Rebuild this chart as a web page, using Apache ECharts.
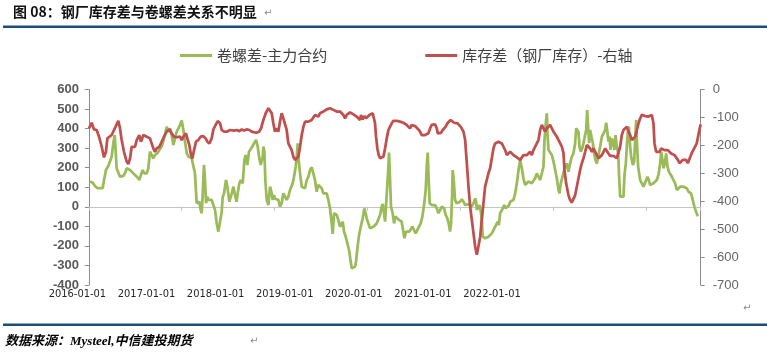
<!DOCTYPE html>
<html><head><meta charset="utf-8">
<script src="https://cdn.jsdelivr.net/npm/echarts@6/dist/echarts.min.js"></script>
<style>html,body{margin:0;padding:0;background:#fff}#c{width:767px;height:355px}</style>
</head><body><div id="c"></div>
<script>
const titleText = '图 08：钢厂库存差与卷螺差关系不明显';
const sourceText = '数据来源：Mysteel,中信建投期货';
const greenName = '卷螺差-主力合约';
const redName = '库存差（钢厂库存）-右轴';
const tickLabels = ['2016-01-01','2017-01-01','2018-01-01','2019-01-01','2020-01-01','2021-01-01','2022-01-01'];

const greenYears = [2016.012,2016.041,2016.066,2016.091,2016.120,2016.148,2016.163,2016.184,2016.209,2016.227,2016.245,2016.263,2016.278,2016.288,2016.299,2016.317,2016.335,2016.353,2016.371,2016.389,2016.407,2016.425,2016.443,2016.461,2016.479,2016.497,2016.522,2016.543,2016.561,2016.579,2016.597,2016.623,2016.640,2016.658,2016.676,2016.694,2016.712,2016.737,2016.759,2016.784,2016.802,2016.820,2016.838,2016.856,2016.874,2016.892,2016.910,2016.928,2016.946,2016.964,2016.982,2017.000,2017.018,2017.036,2017.054,2017.072,2017.090,2017.107,2017.125,2017.143,2017.161,2017.179,2017.190,2017.204,2017.215,2017.226,2017.240,2017.251,2017.262,2017.276,2017.287,2017.305,2017.323,2017.341,2017.359,2017.377,2017.395,2017.413,2017.431,2017.442,2017.456,2017.477,2017.492,2017.513,2017.528,2017.539,2017.557,2017.574,2017.592,2017.603,2017.621,2017.636,2017.657,2017.675,2017.689,2017.707,2017.725,2017.743,2017.761,2017.779,2017.801,2017.819,2017.833,2017.851,2017.862,2017.873,2017.880,2017.891,2017.901,2017.916,2017.934,2017.952,2017.970,2017.980,2017.995,2018.005,2018.023,2018.041,2018.059,2018.077,2018.095,2018.113,2018.131,2018.149,2018.167,2018.185,2018.196,2018.210,2018.228,2018.239,2018.250,2018.260,2018.275,2018.293,2018.311,2018.329,2018.347,2018.365,2018.383,2018.400,2018.418,2018.436,2018.454,2018.472,2018.490,2018.508,2018.526,2018.544,2018.562,2018.580,2018.598,2018.616,2018.627,2018.641,2018.659,2018.670,2018.688,2018.706,2018.724,2018.735,2018.749,2018.767,2018.785,2018.803,2018.821,2018.832,2018.850,2018.868,2018.878,2018.893,2018.911,2018.929,2018.950,2018.968,2018.982,2018.993,2019.011,2019.029,2019.047,2019.065,2019.083,2019.101,2019.119,2019.137,2019.155,2019.166,2019.180,2019.191,2019.209,2019.223,2019.234,2019.245,2019.255,2019.273,2019.288,2019.302,2019.316,2019.334,2019.352,2019.370,2019.388,2019.399,2019.417,2019.435,2019.453,2019.467,2019.485,2019.503,2019.521,2019.539,2019.557,2019.575,2019.593,2019.611,2019.629,2019.640,2019.651,2019.661,2019.672,2019.694,2019.712,2019.730,2019.748,2019.766,2019.784,2019.802,2019.812,2019.827,2019.845,2019.862,2019.880,2019.891,2019.902,2019.913,2019.920,2019.931,2019.945,2019.963,2019.981,2019.999,2020.018,2020.036,2020.054,2020.072,2020.090,2020.108,2020.126,2020.144,2020.162,2020.172,2020.180,2020.198,2020.208,2020.223,2020.233,2020.244,2020.259,2020.269,2020.287,2020.305,2020.323,2020.341,2020.359,2020.377,2020.395,2020.406,2020.417,2020.431,2020.449,2020.460,2020.474,2020.492,2020.510,2020.528,2020.539,2020.557,2020.575,2020.593,2020.611,2020.629,2020.647,2020.657,2020.668,2020.682,2020.700,2020.718,2020.736,2020.754,2020.772,2020.790,2020.808,2020.826,2020.844,2020.862,2020.880,2020.898,2020.909,2020.923,2020.934,2020.941,2020.952,2020.970,2020.988,2021.006,2021.024,2021.042,2021.060,2021.070,2021.085,2021.103,2021.121,2021.139,2021.149,2021.167,2021.185,2021.203,2021.221,2021.239,2021.250,2021.264,2021.275,2021.286,2021.300,2021.315,2021.329,2021.347,2021.358,2021.369,2021.379,2021.390,2021.401,2021.415,2021.430,2021.444,2021.458,2021.473,2021.491,2021.509,2021.527,2021.545,2021.563,2021.573,2021.584,2021.598,2021.609,2021.620,2021.634,2021.649,2021.663,2021.674,2021.688,2021.703,2021.713,2021.724,2021.742,2021.760,2021.771,2021.785,2021.796,2021.807,2021.818,2021.832,2021.843,2021.861,2021.875,2021.886,2021.897,2021.907,2021.918,2021.929,2021.940,2021.958,2021.976,2021.994,2022.004,2022.019,2022.033,2022.047,2022.065,2022.083,2022.101,2022.119,2022.137,2022.155,2022.166,2022.180,2022.191,2022.205,2022.220,2022.234,2022.249,2022.263,2022.281,2022.299,2022.317,2022.335,2022.353,2022.371,2022.389,2022.407,2022.425,2022.443,2022.461,2022.478,2022.488,2022.506,2022.524,2022.542,2022.556,2022.565];
const greenValues = [129,123,106,95,95,95,137,188,209,214,256,325,367,291,197,192,154,149,158,171,197,188,188,183,171,163,151,137,163,188,171,171,197,282,265,248,265,274,291,308,316,367,410,384,401,367,316,350,384,393,418,441,393,333,274,257,265,248,243,171,18,9,26,-16,-33,60,214,137,18,52,35,43,35,38,-16,-85,-127,-119,-25,52,69,137,103,26,18,69,103,60,26,69,120,137,120,239,265,214,282,291,308,325,342,308,257,214,209,257,308,282,137,35,9,103,69,35,60,43,43,35,1,18,69,60,35,52,86,95,120,154,205,256,325,239,171,103,112,95,137,154,188,202,171,137,77,112,117,95,69,77,69,35,-8,-85,-139,-33,-25,-42,-68,-102,-102,-76,-127,-153,-187,-221,-281,-315,-320,-306,-281,-212,-144,-102,-59,-8,-33,-59,-85,-110,-102,-102,-93,-85,-76,-42,1,14,-33,-76,-85,171,277,137,1,-33,-85,-50,-59,-64,-68,-76,-127,-161,-127,-127,-127,-119,-102,-119,-136,-127,-102,-85,-50,9,86,205,277,137,18,9,9,9,-8,-33,-25,1,9,-8,-42,-59,-93,-127,-85,52,188,137,35,18,21,26,38,26,9,18,14,18,4,18,43,26,-16,-25,9,-25,-68,-153,-144,-161,-161,-153,-144,-136,-119,-102,-93,-76,-93,-33,-33,-8,9,-8,1,9,26,26,35,69,120,188,239,231,188,146,112,120,129,137,120,112,146,171,154,137,146,205,342,427,478,376,291,299,265,231,188,146,86,69,120,154,188,197,222,180,222,256,274,325,401,406,384,308,282,299,325,333,393,495,410,325,393,359,325,274,239,222,265,308,359,376,393,430,393,333,359,291,350,325,291,367,308,274,154,52,43,52,163,222,308,384,410,308,256,214,231,342,444,308,205,171,137,120,103,95,137,154,137,112,112,120,129,137,163,222,282,239,197,222,273,205,180,188,154,137,120,86,94,103,112,103,94,94,77,69,69,35,1,-25,-42,-47];

const redYears = [2016.001,2016.030,2016.055,2016.084,2016.109,2016.138,2016.163,2016.184,2016.199,2016.220,2016.245,2016.263,2016.288,2016.317,2016.335,2016.353,2016.378,2016.407,2016.425,2016.443,2016.461,2016.479,2016.497,2016.515,2016.543,2016.561,2016.587,2016.605,2016.623,2016.658,2016.676,2016.694,2016.712,2016.730,2016.759,2016.784,2016.809,2016.838,2016.867,2016.892,2016.917,2016.946,2016.982,2017.000,2017.018,2017.046,2017.061,2017.082,2017.097,2017.115,2017.133,2017.154,2017.179,2017.204,2017.233,2017.258,2017.276,2017.298,2017.323,2017.341,2017.366,2017.388,2017.413,2017.431,2017.456,2017.485,2017.521,2017.539,2017.564,2017.592,2017.621,2017.646,2017.671,2017.700,2017.729,2017.754,2017.772,2017.801,2017.833,2017.855,2017.880,2017.905,2017.934,2017.952,2017.970,2017.987,2018.005,2018.023,2018.041,2018.059,2018.077,2018.095,2018.113,2018.131,2018.149,2018.167,2018.185,2018.203,2018.221,2018.239,2018.257,2018.275,2018.293,2018.311,2018.329,2018.347,2018.365,2018.383,2018.400,2018.418,2018.436,2018.454,2018.472,2018.490,2018.508,2018.526,2018.544,2018.562,2018.580,2018.598,2018.616,2018.634,2018.652,2018.670,2018.688,2018.706,2018.724,2018.742,2018.760,2018.778,2018.796,2018.814,2018.832,2018.850,2018.868,2018.885,2018.903,2018.921,2018.932,2018.950,2018.968,2018.986,2019.004,2019.022,2019.040,2019.058,2019.072,2019.083,2019.094,2019.108,2019.123,2019.137,2019.155,2019.173,2019.191,2019.209,2019.227,2019.245,2019.263,2019.281,2019.299,2019.316,2019.334,2019.352,2019.370,2019.388,2019.406,2019.424,2019.442,2019.460,2019.478,2019.496,2019.514,2019.532,2019.550,2019.568,2019.586,2019.604,2019.622,2019.640,2019.658,2019.676,2019.694,2019.712,2019.730,2019.748,2019.758,2019.776,2019.794,2019.812,2019.827,2019.845,2019.862,2019.880,2019.898,2019.916,2019.934,2019.952,2019.970,2019.988,2020.006,2020.018,2020.036,2020.054,2020.072,2020.090,2020.108,2020.126,2020.144,2020.162,2020.180,2020.198,2020.216,2020.233,2020.251,2020.269,2020.287,2020.305,2020.323,2020.341,2020.359,2020.377,2020.395,2020.413,2020.431,2020.449,2020.467,2020.485,2020.503,2020.521,2020.539,2020.557,2020.575,2020.593,2020.611,2020.629,2020.647,2020.665,2020.682,2020.700,2020.718,2020.736,2020.754,2020.772,2020.790,2020.808,2020.826,2020.844,2020.862,2020.880,2020.898,2020.916,2020.934,2020.952,2020.970,2020.988,2021.006,2021.024,2021.042,2021.060,2021.078,2021.096,2021.114,2021.124,2021.142,2021.167,2021.185,2021.203,2021.221,2021.239,2021.257,2021.275,2021.293,2021.311,2021.329,2021.347,2021.365,2021.383,2021.401,2021.419,2021.437,2021.455,2021.473,2021.491,2021.509,2021.527,2021.545,2021.563,2021.580,2021.598,2021.616,2021.634,2021.652,2021.670,2021.688,2021.706,2021.724,2021.742,2021.760,2021.778,2021.796,2021.814,2021.832,2021.850,2021.868,2021.886,2021.904,2021.922,2021.940,2021.958,2021.976,2021.994,2022.012,2022.029,2022.047,2022.065,2022.083,2022.094,2022.112,2022.130,2022.148,2022.166,2022.184,2022.202,2022.220,2022.238,2022.256,2022.274,2022.292,2022.310,2022.328,2022.346,2022.364,2022.382,2022.399,2022.417,2022.435,2022.453,2022.471,2022.495,2022.513,2022.531,2022.549,2022.567,2022.585,2022.592];
const redValues = [-139,-119,-143,-145,-169,-205,-243,-223,-175,-171,-163,-157,-133,-112,-139,-181,-223,-258,-267,-247,-205,-199,-205,-181,-163,-187,-163,-167,-169,-175,-193,-211,-223,-211,-205,-187,-169,-151,-143,-157,-169,-171,-169,-181,-169,-157,-175,-199,-229,-247,-217,-187,-181,-169,-167,-175,-187,-193,-175,-143,-127,-113,-121,-145,-151,-151,-145,-139,-147,-145,-149,-143,-147,-143,-145,-151,-157,-155,-151,-139,-109,-85,-67,-71,-85,-121,-151,-139,-151,-115,-85,-103,-109,-145,-193,-199,-217,-241,-252,-258,-241,-205,-163,-133,-115,-109,-115,-115,-109,-100,-91,-95,-97,-85,-83,-79,-73,-71,-71,-67,-67,-73,-71,-79,-73,-79,-85,-91,-103,-91,-85,-82,-85,-89,-91,-97,-103,-109,-91,-107,-95,-103,-97,-91,-85,-85,-91,-121,-169,-211,-235,-246,-249,-241,-211,-175,-145,-133,-121,-112,-107,-112,-119,-115,-121,-119,-121,-127,-133,-139,-127,-127,-131,-133,-143,-151,-163,-169,-163,-169,-157,-139,-127,-124,-125,-139,-157,-151,-155,-145,-151,-133,-121,-115,-109,-112,-119,-121,-121,-127,-133,-139,-151,-181,-264,-348,-420,-467,-515,-563,-592,-587,-527,-467,-408,-348,-324,-300,-282,-246,-211,-193,-187,-187,-184,-193,-205,-217,-235,-235,-223,-229,-235,-238,-243,-246,-252,-250,-235,-231,-235,-229,-223,-235,-217,-211,-193,-181,-145,-127,-133,-151,-139,-133,-127,-139,-151,-157,-169,-181,-193,-205,-229,-288,-336,-378,-396,-405,-402,-378,-348,-318,-288,-264,-246,-223,-199,-193,-211,-223,-211,-217,-235,-246,-241,-235,-223,-211,-205,-229,-238,-241,-238,-241,-246,-241,-205,-163,-145,-139,-133,-151,-163,-181,-187,-169,-145,-121,-103,-91,-88,-95,-91,-97,-97,-91,-121,-193,-223,-217,-223,-211,-205,-217,-211,-217,-217,-229,-235,-235,-241,-252,-264,-258,-252,-246,-252,-264,-270,-228,-216,-205,-193,-163,-133,-125];

const chart = echarts.init(document.getElementById('c'), null, {renderer: 'canvas'});
const axisGrey = '#8C8C8C';
chart.setOption({
  animation: false,
  backgroundColor: '#fff',
  title: {
    text: titleText, left: 13, top: 5, padding: 0,
    textStyle: {fontSize: 14, fontWeight: 'bold', color: '#111', fontFamily: '"Noto Sans CJK SC", sans-serif'}
  },
  legend: {
    left: 180, top: 48, padding: 0, icon: 'rect', itemWidth: 32, itemHeight: 3, itemGap: 98,
    data: [greenName, redName],
    textStyle: {fontSize: 15, color: '#404040', fontFamily: '"Noto Sans CJK SC", sans-serif'}
  },
  grid: {left: 88.9, right: 66.3, top: 89.5, bottom: 70, containLabel: false},
  xAxis: [
    {
      type: 'value', min: 2016, max: 2022.592, interval: 1, position: 'bottom',
      axisLine: {show: true, onZero: true, onZeroAxisIndex: 0, lineStyle: {color: '#C4C4C4', width: 1}},
      axisTick: {show: true, length: 4, lineStyle: {color: '#C4C4C4'}},
      axisLabel: {show: false}, splitLine: {show: false}
    },
    {
      type: 'value', min: 0, max: 8.854, interval: 1, position: 'bottom',
      axisLine: {show: false, onZero: false}, axisTick: {show: false}, splitLine: {show: false},
      axisLabel: {
        show: true, margin: 4, padding: [0, 23, 0, 0], fontSize: 11, color: '#262626',
        fontFamily: '"Liberation Sans Narrow", "Arial Narrow", "DejaVu Sans Condensed", sans-serif',
        formatter: function (v) { return (Number.isInteger(v) && v >= 0 && v < tickLabels.length) ? tickLabels[v] : ''; }
      }
    }
  ],
  yAxis: [
    {
      type: 'value', min: -400, max: 600, interval: 100, position: 'left',
      axisLine: {show: true, onZero: false, lineStyle: {color: axisGrey}},
      axisTick: {show: true, length: 4, lineStyle: {color: axisGrey}},
      splitLine: {show: false},
      axisLabel: {margin: 10, fontSize: 13, fontWeight: 'bold', color: '#595959', fontFamily: '"Liberation Sans", Arial, sans-serif'}
    },
    {
      type: 'value', min: -700, max: 0, interval: 100, position: 'right',
      axisLine: {show: true, onZero: false, lineStyle: {color: axisGrey}},
      axisTick: {show: true, length: 4, lineStyle: {color: axisGrey}},
      splitLine: {show: false},
      axisLabel: {margin: 12, fontSize: 13, color: '#666', fontFamily: '"Liberation Sans", Arial, sans-serif'}
    }
  ],
  series: [
    {
      name: greenName, type: 'line', xAxisIndex: 0, yAxisIndex: 0, symbol: 'none', showSymbol: false,
      data: greenYears.map((x, i) => [x, greenValues[i]]),
      lineStyle: {color: '#9BBB59', width: 2.75}, itemStyle: {color: '#9BBB59'}
    },
    {
      name: redName, type: 'line', xAxisIndex: 0, yAxisIndex: 1, symbol: 'none', showSymbol: false,
      data: redYears.map((x, i) => [x, redValues[i]]),
      lineStyle: {color: '#C0504D', width: 2.75}, itemStyle: {color: '#C0504D'}
    }
  ],
  graphic: [
    {type: 'rect', left: 3, top: 25.5, shape: {width: 764, height: 2.5}, style: {fill: '#1B4E78'}, silent: true},
    {type: 'rect', left: 3, top: 323.5, shape: {width: 764, height: 2.5}, style: {fill: '#1B4E78'}, silent: true},
    {type: 'text', x: 5, y: 341.5, silent: true,
      style: {text: sourceText, fill: '#000', verticalAlign: 'middle',
        font: 'italic bold 13px "Liberation Serif", "Noto Sans CJK SC", serif'}},
    {type: 'text', x: 264, y: 13, silent: true, style: {text: '↵', fill: '#8a8a8a', verticalAlign: 'middle', font: '10px "DejaVu Sans"'}},
    {type: 'text', x: 743, y: 308, silent: true, style: {text: '↵', fill: '#8a8a8a', verticalAlign: 'middle', font: '10px "DejaVu Sans"'}},
    {type: 'text', x: 250, y: 341, silent: true, style: {text: '↵', fill: '#8a8a8a', verticalAlign: 'middle', font: '10px "DejaVu Sans"'}}
  ]
});
</script>
</body></html>
